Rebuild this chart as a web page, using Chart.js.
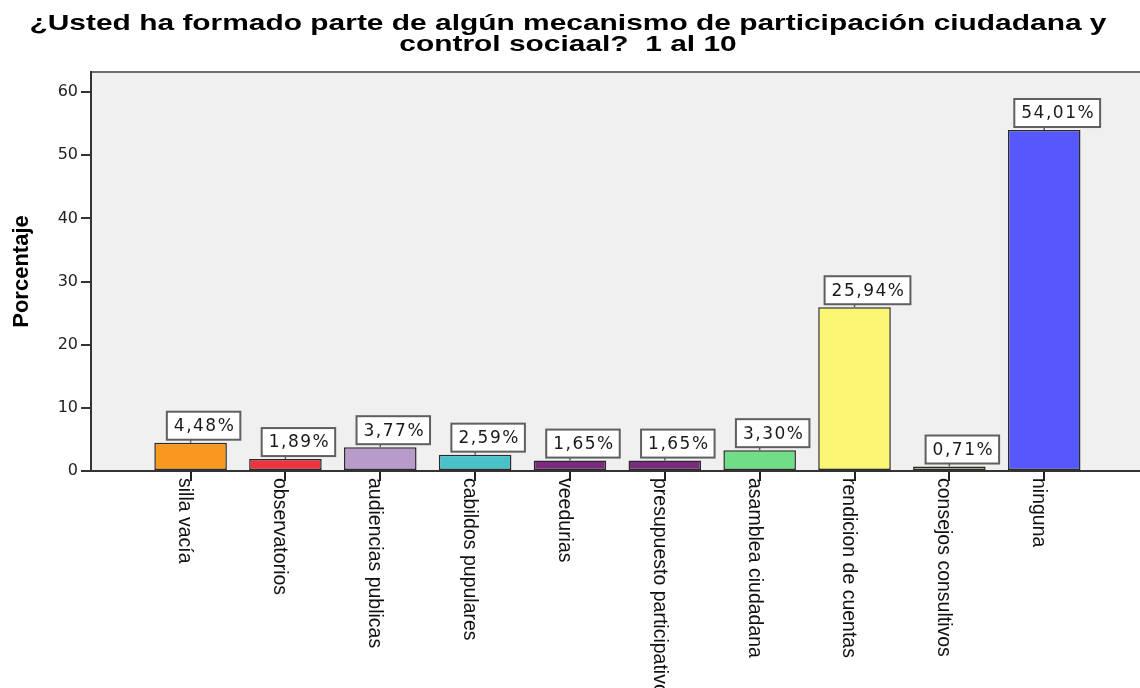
<!DOCTYPE html>
<html>
<head>
<meta charset="utf-8">
<script src="https://cdn.jsdelivr.net/npm/chart.js@4/dist/chart.umd.min.js"></script>
<style>
  html, body { margin: 0; padding: 0; background: #fff; }
  #wrap { width: 1140px; height: 688px; position: relative; }
</style>
</head>
<body>
<div id="wrap"><canvas id="chart"></canvas></div>
<script>
const titleLines = [
    '¿Usted ha formado parte de algún mecanismo de participación ciudadana y',
    'control sociaal?  1 al 10'
];
const categories = [
    'silla vacía', 'observatorios', 'audiencias publicas', 'cabildos pupulares', 'veedurias',
    'presupuesto participativo', 'asamblea ciudadana', 'rendicion de cuentas', 'consejos consultivos', 'ninguna'
];
const percentages = [4.48, 1.89, 3.77, 2.59, 1.65, 1.65, 3.30, 25.94, 0.71, 54.01];
const yTickValues = [0, 10, 20, 30, 40, 50, 60];
const barColors = [
    '#F7991F', '#EE3440', '#B89BCB', '#48C2C8', '#7C2A7E',
    '#7C2A7E', '#70DE86', '#FBF674', '#C8BF88', '#5758FB'
];

const fmtPct = v => v.toFixed(2).replace('.', ',') + '%';

// gray plot background + top frame line
const plotBackground = {
    id: 'plotBackground',
    beforeDraw(chart) {
        const { ctx, chartArea: a } = chart;
        ctx.save();
        ctx.fillStyle = '#F0F0F0';
        ctx.fillRect(a.left, a.top, a.right - a.left, a.bottom - a.top);
        ctx.strokeStyle = '#6f6f6f';
        ctx.lineWidth = 2;
        ctx.beginPath();
        ctx.moveTo(a.left, a.top);
        ctx.lineTo(a.right, a.top);
        ctx.stroke();
        ctx.restore();
    }
};

// boxed value labels above the bars
const valueBoxes = {
    id: 'valueBoxes',
    afterDatasetsDraw(chart) {
        const { ctx } = chart;
        const meta = chart.getDatasetMeta(0);
        ctx.save();
        ctx.font = '17px "DejaVu Sans"';
        if ('letterSpacing' in ctx) ctx.letterSpacing = '1.5px';
        ctx.textAlign = 'center';
        ctx.textBaseline = 'middle';
        meta.data.forEach((bar, i) => {
            const label = fmtPct(percentages[i]);
            const w = ctx.measureText(label).width + 12;
            const h = 28;
            const cx = bar.x + 13;
            const bottom = bar.y - 3;
            ctx.strokeStyle = '#5f5f5f';
            ctx.lineWidth = 1.5;
            ctx.beginPath();
            ctx.moveTo(bar.x, bar.y);
            ctx.lineTo(bar.x, bottom);
            ctx.stroke();
            ctx.fillStyle = '#ffffff';
            ctx.fillRect(cx - w / 2, bottom - h, w, h);
            ctx.lineWidth = 2;
            ctx.strokeRect(cx - w / 2, bottom - h, w, h);
            ctx.fillStyle = '#1a1a1a';
            ctx.fillText(label, cx + 1, bottom - h / 2 + 1);
        });
        ctx.restore();
    }
};

// rotated category labels + stretched title
const extraText = {
    id: 'extraText',
    afterDraw(chart) {
        const { ctx } = chart;
        const xs = chart.scales.x;
        ctx.save();
        ctx.fillStyle = '#111';
        ctx.font = '19.5px "Liberation Sans"';
        ctx.textAlign = 'left';
        ctx.textBaseline = 'top';
        categories.forEach((c, i) => {
            const px = xs.getPixelForValue(i + 1);
            ctx.save();
            ctx.translate(px + 4, xs.top + 7);
            ctx.rotate(Math.PI / 2);
            ctx.fillText(c, 0, 0);
            ctx.restore();
        });
        ctx.restore();

        ctx.save();
        ctx.fillStyle = '#000';
        ctx.font = 'bold 22px "Liberation Sans"';
        ctx.textAlign = 'center';
        ctx.textBaseline = 'alphabetic';
        const sx = 1077 / ctx.measureText(titleLines[0]).width;
        const baselines = [29.5, 51];
        titleLines.forEach((line, i) => {
            ctx.save();
            ctx.translate(568, baselines[i]);
            ctx.scale(sx, 1);
            ctx.fillText(line, 0, 0);
            ctx.restore();
        });
        ctx.restore();
    }
};

Chart.defaults.font.family = '"Liberation Sans", Arial, sans-serif';

new Chart(document.getElementById('chart'), {
    type: 'bar',
    data: {
        datasets: [{
            data: percentages.map((v, i) => ({ x: i + 1, y: v })),
            backgroundColor: barColors,
            borderColor: '#2a2a2a',
            borderWidth: 1.5,
            borderSkipped: false,
            barPercentage: 0.765,
            categoryPercentage: 1
        }]
    },
    options: {
        responsive: true,
        maintainAspectRatio: false,
        animation: false,
        layout: { padding: { top: 72, left: 0, right: 0, bottom: 0 } },
        plugins: {
            legend: { display: false },
            tooltip: { enabled: false },
            title: { display: false }
        },
        scales: {
            x: {
                type: 'linear',
                offset: false,
                min: -0.05,
                max: 11.01,
                afterBuildTicks: s => { s.ticks = categories.map((c, i) => ({ value: i + 1 })); },
                afterFit: s => { s.height = 217; },
                ticks: { display: false },
                grid: { offset: false, drawOnChartArea: false, drawTicks: true, tickLength: 10, color: '#222', lineWidth: 2 },
                border: { display: true, color: '#333', width: 2 }
            },
            y: {
                min: 0,
                max: 63.2,
                afterBuildTicks: s => { s.ticks = yTickValues.map(v => ({ value: v })); },
                afterFit: s => { s.width = 91; },
                ticks: {
                    color: '#222',
                    padding: 3,
                    font: { family: '"DejaVu Sans"', size: 16 }
                },
                grid: { drawOnChartArea: false, drawTicks: true, tickLength: 10, color: '#333', lineWidth: 2 },
                border: { display: true, color: '#333', width: 2 },
                title: {
                    display: true,
                    text: 'Porcentaje',
                    color: '#000',
                    padding: { top: 9, bottom: 0 },
                    font: { family: '"Liberation Sans"', size: 22, weight: 'bold' }
                }
            }
        }
    },
    plugins: [plotBackground, valueBoxes, extraText]
});
</script>
</body>
</html>
